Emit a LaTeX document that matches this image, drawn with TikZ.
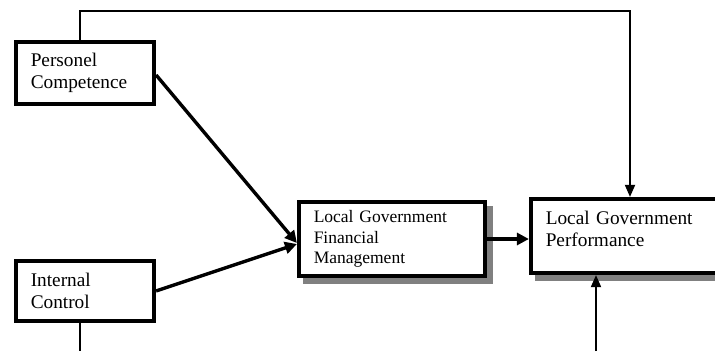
\documentclass[tikz,border=0pt]{standalone}
\usepackage{fontspec}
\setmainfont{Liberation Serif}
\usetikzlibrary{arrows.meta,shadows}
\begin{document}
\begin{tikzpicture}[
        x=1pt, y=-1pt,
        box/.style={draw, fill=white, line width=3.7pt, inner xsep=15pt, inner ysep=0pt, align=left,
            font=\fontsize{19.3}{22.5}\selectfont},
        shadowed/.style={drop shadow={shadow xshift=6pt, shadow yshift=-6pt,
            fill=gray, draw=gray, line width=3.7pt, opacity=1}},
        link/.style={line width=3.4pt, -{Triangle[length=12pt,width=12pt]}},
        feed/.style={line width=1.8pt},
        feedarrow/.style={feed, -{Triangle[length=12pt,width=10pt]}}
    ]
        % Marco
        \useasboundingbox (0,0) rectangle (715,351);

        % Cajas
        \node[box, minimum width=138.5pt, minimum height=62.5pt, text width=108.5pt]
            (pc) at (85,73) {Personel\\Competence};
        \node[box, minimum width=138.5pt, minimum height=60.5pt, text width=108.5pt]
            (ic) at (85,291) {Internal\\Control};
        \node[box, shadowed, minimum width=186.5pt, minimum height=74.5pt, text width=156.5pt,
            font=\fontsize{17.5}{20.5}\selectfont]
            (fm) at (392,239) {Local Government\\Financial\\Management};
        \node[box, shadowed, minimum width=227.5pt, minimum height=74.5pt, text width=197.5pt]
            (lp) at (644.5,236) {Local Government\\Performance\\[-8pt]\mbox{}};

        % Puntos libres
        \coordinate (tr) at (630,11);
        \coordinate (icb) at (80,351);
        \coordinate (lpb) at (596,351);

        % Flechas
        \draw[link] ([yshift=-2pt]pc.east) -- ([yshift=-4pt]fm.west);
        \draw[link] (ic.east) -- ([yshift=-5pt]fm.west);
        \draw[link] (fm.east) -- (fm.east -| lp.west);

        % Lineas exteriores
        \draw[feedarrow] ([xshift=-5pt]pc.north) |- (tr) -- (tr |- lp.north);
        \draw[feed] ([xshift=-5pt]ic.south) -- (icb);
        \draw[feedarrow] (lpb) -- (lpb |- lp.south);

    \end{tikzpicture}
\end{document}
